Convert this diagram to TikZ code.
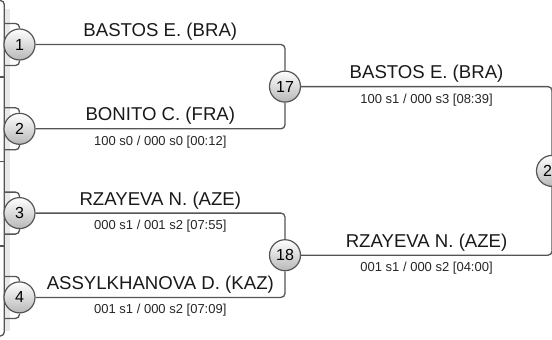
\documentclass[tikz,border=0pt]{standalone}
\usepackage{fontspec}
\setmainfont{Liberation Sans}
\definecolor{wire}{HTML}{555555}
\tikzset{
  bout/.style={circle, draw=wire, line width=1.2pt, minimum size=31pt, inner sep=0pt,
    top color=white, bottom color=black!28, font=\fontsize{16}{16}\selectfont},
  link/.style={draw=wire, line width=1.3pt, rounded corners=4pt},
  athlete/.style={anchor=base, yshift=8pt, text=black!90, font=\fontsize{18.6}{18.6}\selectfont},
  score/.style={anchor=base, yshift=-16.5pt, text=black!85, font=\fontsize{13}{13}\selectfont},
}
\begin{document}
\begin{tikzpicture}[x=1pt,y=-1pt]
\useasboundingbox (0,0) rectangle (552,340);
\fill[black!9] (5,9) rectangle (9.5,331);

\coordinate (top) at (-6,0.5);
\coordinate (bot) at (4.3,336);
\draw[link] (top) -| (bot) -- ++(-12,0);
\draw[link] (0,77) -- (4.3,77);
\draw[link] (0,161.7) -- (4.3,161.7);
\draw[link] (0,246) -- (4.3,246);

\node[bout] (m1) at (19.5,44.5) {1};
\node[bout] (m2) at (19.5,128.8) {2};
\node[bout] (m3) at (19.5,213.1) {3};
\node[bout] (m4) at (19.5,297.4) {4};
\node[bout] (m17) at (285,86.6) {17};
\node[bout] (m18) at (285,255.2) {18};
\node[bout] (m25) at (552,170.9) {25};

\draw[link] (4.3,23.5) -| (m1);
\draw[link] (4.3,65.5) -| (m1);
\draw[link] (4.3,107.8) -| (m2);
\draw[link] (4.3,149.8) -| (m2);
\draw[link] (4.3,192.1) -| (m3);
\draw[link] (4.3,234.1) -| (m3);
\draw[link] (4.3,276.4) -| (m4);
\draw[link] (4.3,318.4) -| (m4);

\draw[link] (m1) -| (m17) node[athlete, pos=0.25] (n1) {BASTOS E. (BRA)};
\draw[link] (m2) -| (m17) node[athlete, pos=0.25] (n2) {BONITO C. (FRA)}
  node[score, pos=0.25] (s17) {100 s0 / 000 s0 [00:12]};
\draw[link] (m3) -| (m18) node[athlete, pos=0.25] (n3) {RZAYEVA N. (AZE)}
  node[score, pos=0.25] (s3) {000 s1 / 001 s2 [07:55]};
\draw[link] (m4) -| (m18) node[athlete, pos=0.25] (n4) {ASSYLKHANOVA D. (KAZ)}
  node[score, pos=0.25] (s4) {001 s1 / 000 s2 [07:09]};

\draw[link] (m17) -| (m25) node[athlete, pos=0.25] (n17) {BASTOS E. (BRA)}
  node[score, pos=0.25] (s25a) {100 s1 / 000 s3 [08:39]};
\draw[link] (m18) -| (m25) node[athlete, pos=0.25] (n18) {RZAYEVA N. (AZE)}
  node[score, pos=0.25] (s25b) {001 s1 / 000 s2 [04:00]};

\end{tikzpicture}
\end{document}
